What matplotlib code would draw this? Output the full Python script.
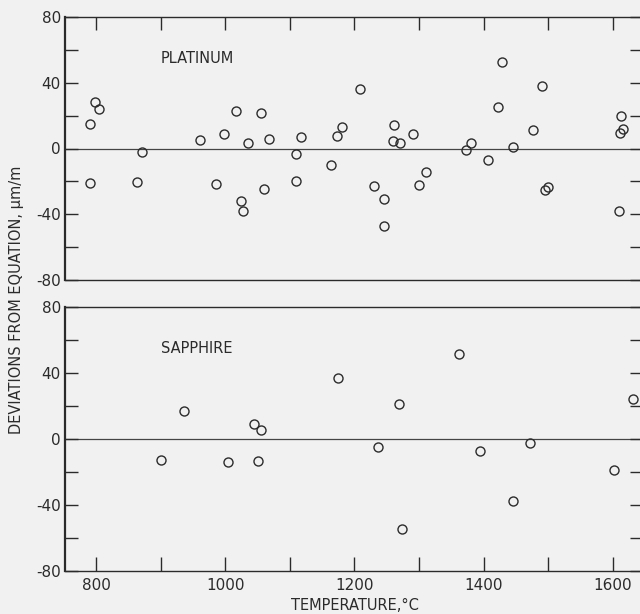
import matplotlib.pyplot as plt
from matplotlib.ticker import MultipleLocator

# platinum deviations (deg C, um/m)
pt_temp = [790, 798, 805, 791, 863, 871, 961, 998, 986, 1016, 1035, 1025, 1028,
           1056, 1060, 1067, 1109, 1118, 1110, 1164, 1173, 1181, 1209, 1230,
           1245, 1246, 1261, 1260, 1271, 1291, 1310, 1300, 1372, 1381, 1407,
           1422, 1429, 1445, 1477, 1491, 1495, 1500, 1613, 1615, 1611, 1610]
pt_dev = [15.0, 28.2, 24.1, -20.9, -20.3, -2.4, 4.9, 9.1, -21.3, 23.1, 3.3, -32.2, -38.3,
          21.9, -24.9, 5.9, -3.4, 6.7, -19.9, -9.9, 7.5, 13.2, 36.1, -22.9,
          -31.0, -47.2, 14.0, 4.3, 3.6, 8.7, -14.4, -22.1, -1.2, 3.2, -6.7,
          25.1, 52.9, 0.8, 11.1, 38.3, -25.1, -23.7, 19.7, 11.8, 9.5, -37.9]

# sapphire deviations
sa_temp = [900, 936, 1005, 1044, 1055, 1051, 1174, 1237, 1269, 1273, 1362,
           1394, 1446, 1472, 1601, 1631]
sa_dev = [-12.5, 16.8, -13.9, 8.9, 5.3, -13.5, 36.8, -4.8, 21.4, -54.4, 51.5,
          -7.3, -37.6, -2.4, -18.8, 24.2]

x_ticks = [800, 1000, 1200, 1400, 1600]
y_ticks = [-80, -40, 0, 40, 80]

ink = "#2b2b2b"
bg = "#f1f1f1"
plt.rcParams["font.family"] = ["DejaVu Sans"]
plt.rcParams["axes.unicode_minus"] = False

fig = plt.figure(figsize=(6.4, 6.14), dpi=100, facecolor=bg)
W, H = 640.0, 614.0
ax_top = fig.add_axes([65 / W, 1 - 280 / H, 577 / W, 263 / H])
ax_bot = fig.add_axes([65 / W, 1 - 571 / H, 577 / W, 264 / H])


def style(ax, label, ticks_top):
    ax.set_facecolor(bg)
    ax.set_xlim(752, 1645)
    ax.set_ylim(-80, 80)
    ax.axhline(0, color="#444444", lw=0.9, zorder=1)
    for s in ax.spines.values():
        s.set_color(ink)
        s.set_linewidth(1.0)
    ax.spines["left"].set_linewidth(1.6)
    ax.spines["right"].set_visible(False)
    ax.yaxis.set_major_locator(MultipleLocator(40))
    ax.yaxis.set_minor_locator(MultipleLocator(20))
    ax.set_yticks(y_ticks)
    ax.tick_params(axis="y", which="both", direction="in", length=9, width=1.0,
                   color=ink, left=True, right=True, labelsize=11,
                   labelcolor=ink, pad=3)
    ax.xaxis.set_major_locator(MultipleLocator(200))
    ax.xaxis.set_minor_locator(MultipleLocator(100))
    if ticks_top:
        ax.tick_params(axis="x", which="both", direction="in", length=9.5, width=1.0,
                       color=ink, top=True, bottom=False, labelbottom=False)
    else:
        ax.set_xticks(x_ticks)
        ax.tick_params(axis="x", which="both", direction="in", length=10, width=1.0,
                       color=ink, top=False, bottom=True, labelsize=11,
                       labelcolor=ink, pad=5)
    ax.text(900, 55, label, ha="left", va="center", fontsize=10.5, color=ink)


style(ax_top, "PLATINUM", True)
style(ax_bot, "SAPPHIRE", False)

ax_top.plot(pt_temp, pt_dev, "o", ms=6.5, mfc="none", mec=ink, mew=1.0, zorder=3)
ax_bot.plot(sa_temp, sa_dev, "o", ms=6.5, mfc="none", mec=ink, mew=1.0, zorder=3,
            clip_on=False)

fig.text(355 / W, 1 - 606 / H, "TEMPERATURE,°C", ha="center", va="center",
         fontsize=10.5, color=ink)
fig.text(17 / W, 1 - 300 / H, "DEVIATIONS FROM EQUATION, μm/m", rotation=90,
         ha="center", va="center", fontsize=10.5, color=ink)

fig.savefig("out.png", dpi=100, facecolor=bg)
